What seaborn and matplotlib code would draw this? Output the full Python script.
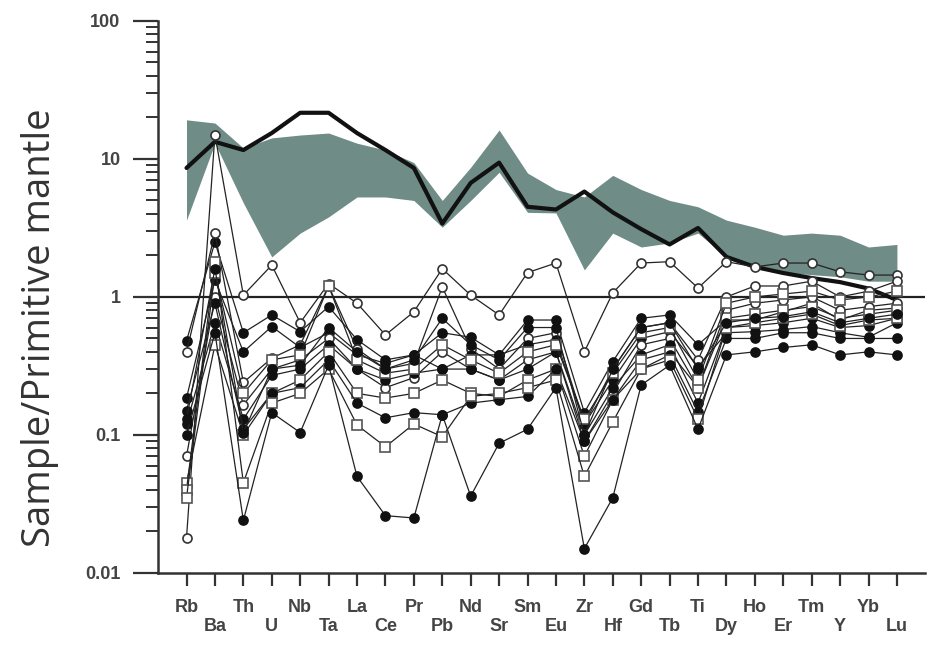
import numpy as np
import pandas as pd
import matplotlib
matplotlib.use("Agg")
import matplotlib.pyplot as plt
import seaborn as sns
from matplotlib.ticker import LogLocator, FixedLocator, NullFormatter

# elementos del diagrama multielemento (normalizado a manto primitivo)
elementos = ["Rb", "Ba", "Th", "U", "Nb", "Ta", "La", "Ce", "Pr", "Pb", "Nd", "Sr", "Sm",
             "Eu", "Zr", "Hf", "Gd", "Tb", "Ti", "Dy", "Ho", "Er", "Tm", "Y", "Yb", "Lu"]

# linea gruesa de referencia
referencia = [8.6, 13.3, 11.6, 15.4, 21.6, 21.6, 15.4, 11.6, 8.6, 3.4, 6.7, 9.4, 4.5,
              4.3, 5.8, 4.1, 3.1, 2.4, 3.16, 1.95, 1.65, 1.49, 1.37, 1.28, 1.15, 0.95]

# campo sombreado (limites superior e inferior)
campo_sup = [19.2, 18.2, 12.0, 14.2, 14.9, 15.4, 13.0, 11.6, 9.4, 5.0, 8.7, 16.2, 7.9,
             6.0, 5.3, 7.6, 6.0, 5.0, 4.5, 3.6, 3.2, 2.8, 2.9, 2.8, 2.3, 2.4]
campo_inf = [3.6, 13.0, 4.8, 1.95, 2.9, 3.8, 5.3, 5.3, 5.0, 3.2, 5.0, 8.0, 4.1,
             4.06, 1.57, 2.9, 2.3, 2.46, 2.9, 1.95, 1.65, 1.5, 1.45, 1.4, 1.3, 1.3]

# muestras
muestra_01 = [0.018, 15, 1.03, 1.7, 0.65, 1.25, 0.9, 0.53, 0.78, 1.6, 1.03, 0.74, 1.5,
              1.76, 0.4, 1.07, 1.76, 1.8, 1.16, 1.8, 1.65, 1.76, 1.76, 1.52, 1.44, 1.44]
muestra_02 = [0.48, 2.5, 0.55, 0.74, 0.56, 0.85, 0.49, 0.35, 0.38, 0.55, 0.51, 0.38, 0.68,
              0.68, 0.145, 0.34, 0.7, 0.74, 0.45, 0.68, 0.68, 0.78, 0.9, 0.68, 0.8, 0.83]
muestra_03 = [0.4, 2.9, 0.24, 0.36, 0.45, 1.2, 0.42, 0.3, 0.33, 1.18, 0.42, 0.3, 0.5,
              0.55, 0.12, 0.3, 0.6, 0.65, 0.35, 1.0, 1.2, 1.2, 1.3, 1.0, 1.1, 1.3]
muestra_04 = [0.185, 1.33, 0.4, 0.61, 0.43, 0.55, 0.38, 0.33, 0.38, 0.3, 0.38, 0.38, 0.45,
              0.49, 0.12, 0.25, 0.5, 0.56, 0.31, 0.55, 0.56, 0.58, 0.61, 0.55, 0.51, 0.65]
muestra_05 = [0.07, 1.0, 0.165, 0.3, 0.35, 0.5, 0.3, 0.22, 0.26, 0.4, 0.3, 0.25, 0.35,
              0.4, 0.09, 0.2, 0.45, 0.5, 0.22, 0.8, 0.9, 0.95, 1.0, 0.8, 0.85, 0.9]
muestra_06 = [0.12, 0.65, 0.13, 0.27, 0.3, 0.45, 0.3, 0.25, 0.28, 0.3, 0.3, 0.25, 0.3,
              0.4, 0.1, 0.22, 0.38, 0.45, 0.17, 0.6, 0.62, 0.65, 0.7, 0.6, 0.62, 0.7]
muestra_07 = [0.045, 0.45, 0.1, 0.2, 0.25, 0.4, 0.2, 0.185, 0.2, 0.25, 0.2, 0.19, 0.25,
              0.3, 0.07, 0.18, 0.35, 0.4, 0.22, 0.7, 0.75, 0.8, 0.85, 0.7, 0.75, 0.8]
muestra_08 = [0.15, 0.9, 0.11, 0.2, 0.22, 0.35, 0.17, 0.133, 0.145, 0.14, 0.17, 0.18, 0.19,
              0.3, 0.09, 0.18, 0.3, 0.38, 0.146, 0.5, 0.5, 0.55, 0.55, 0.5, 0.5, 0.5]
muestra_09 = [0.04, 1.8, 0.045, 0.17, 0.2, 0.3, 0.118, 0.082, 0.12, 0.097, 0.19, 0.2, 0.22,
              0.25, 0.05, 0.124, 0.3, 0.35, 0.13, 0.6, 0.65, 0.7, 0.75, 0.62, 0.68, 0.7]
muestra_10 = [0.1, 0.55, 0.024, 0.145, 0.104, 0.32, 0.05, 0.026, 0.025, 0.14, 0.036, 0.087, 0.11,
              0.22, 0.015, 0.035, 0.23, 0.32, 0.11, 0.38, 0.4, 0.43, 0.45, 0.38, 0.4, 0.38]
muestra_11 = [0.035, 1.5, 0.2, 0.35, 0.38, 1.2, 0.35, 0.28, 0.3, 0.45, 0.35, 0.28, 0.4,
              0.45, 0.13, 0.28, 0.55, 0.6, 0.25, 0.9, 1.0, 1.05, 1.1, 0.95, 1.0, 1.1]
muestra_12 = [0.13, 1.6, 0.104, 0.3, 0.32, 0.6, 0.4, 0.3, 0.35, 0.7, 0.45, 0.35, 0.6,
              0.6, 0.1, 0.3, 0.6, 0.65, 0.3, 0.65, 0.7, 0.72, 0.78, 0.65, 0.7, 0.75]

muestras = [muestra_01, muestra_02, muestra_03, muestra_04, muestra_05, muestra_06,
            muestra_07, muestra_08, muestra_09, muestra_10, muestra_11, muestra_12]
# estilo de simbolo: lleno, abierto o cuadrado abierto
simbolos = ["abierto", "lleno", "abierto", "lleno", "abierto", "lleno",
            "cuadrado", "lleno", "cuadrado", "lleno", "cuadrado", "lleno"]

sns.set_style("ticks")
plt.rcParams["font.family"] = ["Liberation Sans", "DejaVu Sans"]

fig = plt.figure(figsize=(9.3, 6.54), dpi=100)
ax = fig.add_axes([0.170, 0.124, 0.825, 0.844])

x = np.arange(len(elementos))

# campo sombreado
ax.fill_between(x, campo_inf, campo_sup, color="#6f8c87", linewidth=0, zorder=1)

# muestras
for valores, tipo in zip(muestras, simbolos):
    df = pd.DataFrame({"x": x, "valor": valores})
    if tipo == "lleno":
        kw = dict(marker="o", markerfacecolor="#111111", markeredgecolor="#111111")
    elif tipo == "abierto":
        kw = dict(marker="o", markerfacecolor="white", markeredgecolor="#333333")
    else:
        kw = dict(marker="s", markerfacecolor="white", markeredgecolor="#555555")
    sns.lineplot(data=df, x="x", y="valor", ax=ax, color="#222222", linewidth=0.9,
                 markersize=6.5, markeredgewidth=1.2, zorder=4, **kw)

# linea de referencia gruesa
sns.lineplot(x=x, y=referencia, ax=ax, color="#111111", linewidth=3.0, zorder=3)

ax.axhline(1, color="#222222", linewidth=1.6, zorder=2)

ax.set_yscale("log")
ax.set_ylim(0.01, 100)
ax.set_xlim(-1, 26)

ax.yaxis.set_major_locator(FixedLocator([0.01, 0.1, 1, 10, 100]))
ax.yaxis.set_minor_locator(LogLocator(base=10, subs=np.arange(2, 10)))
ax.yaxis.set_minor_formatter(NullFormatter())
ax.set_yticklabels(["0.01", "0.1", "1", "10", "100"], fontweight="bold", color="#444444",
                   fontsize=13)
ax.tick_params(axis="y", which="major", length=18, width=1.6, direction="out", pad=9,
               color="#333333")
ax.tick_params(axis="y", which="minor", length=9, width=1.4, direction="out",
               color="#333333")

ax.set_xticks(x)
etiquetas = [e if i % 2 == 0 else "\n" + e for i, e in enumerate(elementos)]
ax.set_xticklabels(etiquetas, fontweight="bold", color="#444444", fontsize=13,
                   linespacing=1.1)
ax.tick_params(axis="x", length=9, width=1.6, direction="out", pad=10, color="#333333")

for lado in ["top", "right"]:
    ax.spines[lado].set_visible(False)
for lado in ["left", "bottom"]:
    ax.spines[lado].set_linewidth(1.8)
    ax.spines[lado].set_color("#333333")

ax.set_xlabel("")
ax.set_ylabel("Sample/Primitive mantle", fontsize=27.5, color="#333333",
              family=["Open Sans", "DejaVu Sans"])
ax.yaxis.set_label_coords(-0.129, 0.444)

fig.savefig("out.png", dpi=100)
